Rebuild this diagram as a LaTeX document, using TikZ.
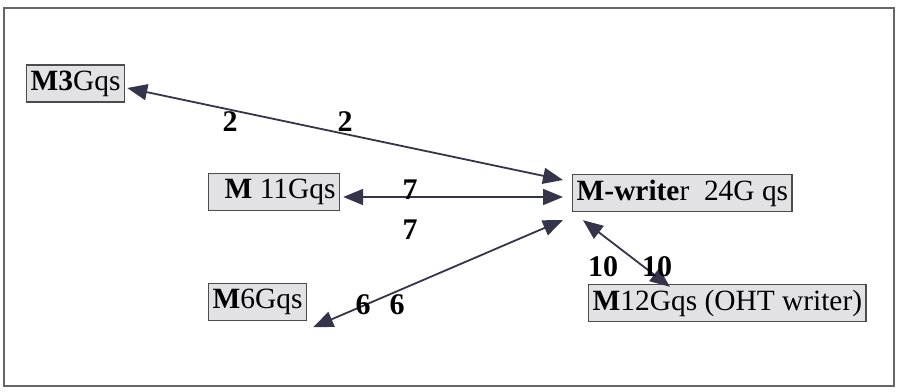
\documentclass[tikz,border=0pt]{standalone}
\usepackage{fontspec}
\setmainfont{Liberation Serif}
\usetikzlibrary{arrows.meta}

\definecolor{linegray}{HTML}{34344A}
\definecolor{boxfill}{HTML}{E2E2E4}
\tikzset{
  mbox/.style={draw=black!70,line width=0.7pt,fill=boxfill,anchor=west,
    inner xsep=2pt,inner ysep=0pt,minimum height=18.5pt,
    font=\fontsize{14.7}{17}\selectfont},
  num/.style={font=\fontsize{15}{17}\selectfont\bfseries,inner sep=0pt},
  link/.style={draw=linegray,line width=0.9pt,
    {Triangle[length=10pt,width=8pt]}-{Triangle[length=10pt,width=8pt]}}
}

\begin{document}
\begin{tikzpicture}[x=0.5pt,y=-0.5pt]
    \useasboundingbox (0,0) rectangle (903,391);
    \draw[black!60,line width=0.8pt] (4,8) rectangle (894,386);

    \node[mbox] (m3) at (26,83.5) {\textbf{M3}Gqs};
    \node[mbox] (m11) at (208,192) {\hspace{6pt}\textbf{M} 11Gqs};
    \node[mbox] (mw) at (572,193) {\textbf{M-write}r~~24G qs};
    \node[mbox] (m6) at (208,302) {\textbf{M}6Gqs};
    \node[mbox] (m12) at (588,303) {\textbf{M}12Gqs (OHT writer)};

    \draw[link] ([shift={(1pt,-2.25pt)}]m3.east) -- ([shift={(-4.5pt,6.5pt)}]mw.west);
    \draw[link] ([shift={(1.5pt,-2.5pt)}]m11.east) -- ([shift={(-4.5pt,-2pt)}]mw.west);
    \draw[link] ([shift={(3pt,-3pt)}]m6.south east) -- ([shift={(-4.5pt,-13.5pt)}]mw.west);
    \draw[link] ([shift={(5.5pt,-4pt)}]mw.south west) -- ([shift={(41pt,-1.5pt)}]m12.north west);

    \node[num] (n2a) at (230,122) {2};
    \node[num] (n2b) at (345,122) {2};
    \node[num] (n7a) at (410,190) {7};
    \node[num] (n7b) at (410,230) {7};
    \node[num] (n6a) at (363,305) {6};
    \node[num] (n6b) at (397,305) {6};
    \node[num] (n10a) at (603,267) {10};
    \node[num] (n10b) at (657,267) {10};
\end{tikzpicture}
\end{document}
